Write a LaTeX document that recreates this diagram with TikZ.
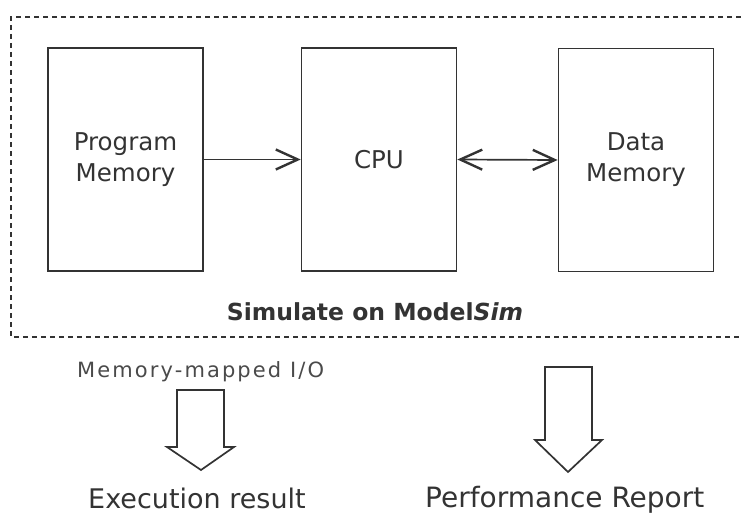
\documentclass[tikz,border=0pt]{standalone}
\usepackage{fontspec}
\setmainfont{DejaVu Sans}
\newfontfamily\spacedfont[LetterSpace=10]{DejaVu Sans}
\usetikzlibrary{arrows.meta,calc}
\definecolor{ink}{HTML}{333333}
\definecolor{lightink}{HTML}{4A4A4A}
\begin{document}
\begin{tikzpicture}[x=1pt,y=-1pt,
  block/.style={draw=ink, line width=1.7pt, minimum width=155pt, minimum height=223pt,
    inner sep=0pt, font=\fontsize{24.5}{31}\selectfont, text=ink, align=center},
  frame/.style={draw=ink, line width=1.9pt, dash pattern=on 5pt off 4pt},
  link/.style={draw=ink, line width=1.7pt},
  barb/.tip={Straight Barb[length=22pt,width=20pt,line width=2.4pt]},
  hollow/.style={draw=ink, line width=1.7pt, line join=miter, fill=white},
  label/.style={text=ink, inner sep=0pt}]
\useasboundingbox (0,0) rectangle (741,519);

% dashed simulation frame (open on the right)
\coordinate (fTR) at (741,17);
\coordinate (fTL) at (11,17);
\coordinate (fBL) at (11,337);
\coordinate (fBR) at (741,337);
\draw[frame] (fTR) -- (fTL) -- (fBL) -- (fBR);

% blocks
\node[block] (prog) at (125.5,159.5) {Program\\Memory};
\node[block] (cpu)  at (379,159.5) {CPU};
\node[block] (data) at (636,160) {Data\\Memory};

% connectors
\draw[link, -barb] (prog.east) -- (cpu.west);
\draw[link, barb-barb] (cpu.east) -- (data.west);

% frame caption
\node[label, anchor=base, font=\bfseries\fontsize{23.5}{28}\selectfont] (sim) at (375,320)
  {Simulate on Model\textit{Sim}};

% outputs
\node[label, anchor=base west, text=lightink, font=\spacedfont\fontsize{21}{24}\selectfont] (mmio) at (77,377)
  {Memory-mapped I/O};
\node[label, anchor=base west, font=\fontsize{27}{32}\selectfont] (exec) at (88,508)
  {Execution result};
\node[label, anchor=base west, font=\fontsize{28}{33}\selectfont] (perf) at (425,507)
  {Performance Report};

% hollow down arrows
\draw[hollow] (177,390) -- (224,390) -- (224,447) -- (234,447) -- (201,470)
  -- (167,447) -- (177,447) -- cycle;
\draw[hollow] (545,367) -- (592,367) -- (592,440) -- (602,440) -- (568,472)
  -- (535,440) -- (545,440) -- cycle;
\end{tikzpicture}
\end{document}
